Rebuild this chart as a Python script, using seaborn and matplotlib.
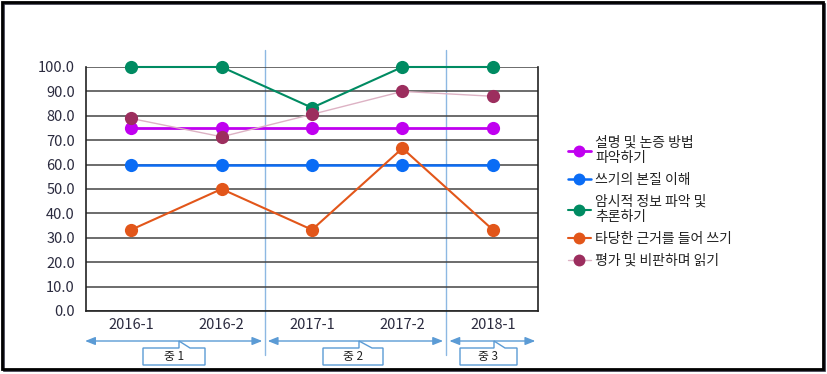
import matplotlib
matplotlib.use("Agg")
import matplotlib.pyplot as plt
import matplotlib.transforms as mtransforms
from matplotlib.patches import Rectangle, Polygon
import seaborn as sns
import pandas as pd

periods = ["2016-1", "2016-2", "2017-1", "2017-2", "2018-1"]
series_names = ["설명 및 논증 방법\n파악하기", "쓰기의 본질 이해", "암시적 정보 파악 및\n추론하기",
                "타당한 근거를 들어 쓰기", "평가 및 비판하며 읽기"]
s_explain = [75.0, 75.0, 75.0, 75.0, 75.0]
s_essence = [60.0, 60.0, 60.0, 60.0, 60.0]
s_implicit = [100.0, 100.0, 83.3, 100.0, 100.0]
s_reason = [33.3, 50.0, 33.3, 66.7, 33.3]
s_critical = [78.9, 71.4, 80.6, 90.0, 88.0]
group_labels = ["중 1", "중 2", "중 3"]

values = [s_explain, s_essence, s_implicit, s_reason, s_critical]
line_colors = ["#C000F0", "#0A6CF5", "#008B62", "#E2561A", "#DDB2C4"]
marker_colors = ["#C000F0", "#0A6CF5", "#008B62", "#E2561A", "#9C2E5E"]
line_widths = [2.0, 1.8, 1.5, 1.5, 1.0]

sns.set_theme(style="white")
plt.rcParams["font.family"] = ["Noto Sans CJK KR", "DejaVu Sans"]

fig = plt.figure(figsize=(8.27, 3.74), dpi=100)
W, H = 827, 374
ax = fig.add_axes([86 / W, 1 - 311 / H, (538 - 86) / W, (311 - 67) / H])

for name, vals, lc, mc, lw in zip(series_names, values, line_colors, marker_colors, line_widths):
    df = pd.DataFrame({"period": periods, "score": vals})
    sns.lineplot(data=df, x="period", y="score", ax=ax, sort=False, color=lc, linewidth=lw,
                 marker="o", markersize=9.5, markerfacecolor=mc, markeredgecolor=mc,
                 markeredgewidth=0, label=name, clip_on=False)

ax.set_xlim(-0.5, 4.5)
ax.set_ylim(0, 100)
ax.set_yticks(range(0, 101, 10))
ax.set_yticklabels([f"{v:.1f}" for v in range(0, 101, 10)])
ax.yaxis.grid(True, color="#444444", linewidth=1.1)
ax.set_axisbelow(True)
ax.set_xlabel("")
ax.set_ylabel("")
ax.tick_params(axis="both", length=0, labelsize=10.5, colors="#2B2B3F", pad=5)
ax.tick_params(axis="y", pad=8)
for side in ["left", "right", "bottom"]:
    ax.spines[side].set_visible(True)
    ax.spines[side].set_color("#222222")
    ax.spines[side].set_linewidth(1.2)
ax.spines["top"].set_visible(False)

# legend
handles, labels = ax.get_legend_handles_labels()
leg = ax.legend(handles, labels, loc="upper left", bbox_to_anchor=(562 / W, 1 - 130 / H),
                bbox_transform=fig.transFigure, frameon=False, fontsize=10, handlelength=1.7,
                handletextpad=0.3, labelspacing=0.55, borderaxespad=0, markerscale=0.9)
for t in leg.get_texts():
    t.set_color("#222222")
    t.set_linespacing(1.15)

# separators between groups
blue = "#5B9BD5"
for xsep in [1.48, 3.48]:
    ax.axvline(xsep, ymin=(311 - 355) / 244, ymax=(311 - 50) / 244, color="#8DB8E2",
               linewidth=1.0, clip_on=False, zorder=0)

# group arrows
yarr = (311 - 341) / 244
for x0, x1 in [(-0.51, 1.45), (1.51, 3.45), (3.52, 4.47)]:
    ax.annotate("", xy=(x1, yarr), xytext=(x0, yarr), xycoords=("data", "axes fraction"),
                textcoords=("data", "axes fraction"),
                arrowprops=dict(arrowstyle="<|-|>,head_length=0.5,head_width=0.2", color=blue,
                                linewidth=1.0, shrinkA=0, shrinkB=0), annotation_clip=False)

# callout boxes in pixel coordinates
pix = mtransforms.Affine2D().scale(1 / 100, -1 / 100).translate(0, 3.74) + fig.dpi_scale_trans
boxes = [(143, 205, 179, 190), (323, 383, 359, 372), (460, 517, 494, 505)]
for (bx0, bx1, tx0, tx1), lab in zip(boxes, group_labels):
    poly = Polygon([(bx0, 348), (tx0, 348), (tx0, 341), (tx1, 348), (bx1, 348), (bx1, 365), (bx0, 365)],
                   closed=True, facecolor="white", edgecolor=blue, linewidth=1.0, transform=pix)
    fig.add_artist(poly)
    fig.text((bx0 + bx1) / 2 / W, 1 - 356.5 / H, lab, ha="center", va="center", fontsize=8.5,
             color="#222222")

# outer border
fig.add_artist(Rectangle((2, 2), 821, 367, transform=pix, fill=False, edgecolor="black", linewidth=2))
fig.add_artist(Rectangle((4, 4), 821, 367, transform=pix, fill=False, edgecolor="#333344",
                         linewidth=1.2, zorder=-1))

fig.savefig("out.png", dpi=100, facecolor="white")
